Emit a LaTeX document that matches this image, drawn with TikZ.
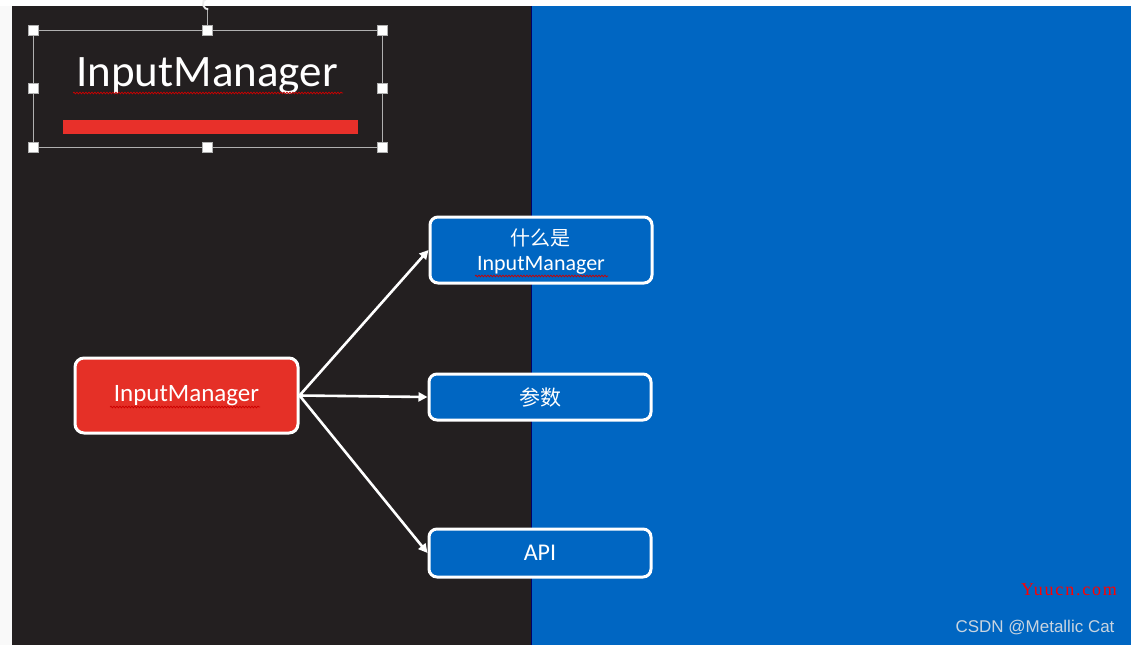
\documentclass[tikz,border=0pt]{standalone}
\usepackage{fontspec}
\setmainfont{Carlito}
\newfontfamily\cjk{Noto Sans CJK SC}
\newfontfamily\wmfont[LetterSpace=10]{Liberation Serif}
\newfontfamily\arialfont{Liberation Sans}
\usetikzlibrary{arrows.meta,decorations.pathmorphing}
\definecolor{darkbg}{HTML}{231F20}
\definecolor{bluebg}{HTML}{0066C2}
\definecolor{boxblue}{HTML}{0066C2}
\definecolor{redbox}{HTML}{E53027}
\definecolor{redbar}{HTML}{E8302A}
\definecolor{selgray}{HTML}{B0B0B0}
\definecolor{wm}{HTML}{C8D4E0}
\begin{document}
\begin{tikzpicture}[x=1pt,y=-1pt,
  bluebox/.style={draw=white,line width=3pt,fill=boxblue,rounded corners=8pt,text=white,inner sep=0pt},
  redbox/.style={draw=white,line width=3pt,fill=redbox,rounded corners=9pt,text=white,inner sep=0pt},
  handle/.style={draw=selgray,fill=white,line width=0.5pt,minimum size=10pt,inner sep=0pt},
  conn/.style={draw=white,line width=2.6pt,-{Triangle[length=9pt,width=9pt]}},
  squiggle/.style={draw=red!80!black,line width=0.7pt,decorate,decoration={snake,amplitude=0.9pt,segment length=3pt}}]
\useasboundingbox (0,0) rectangle (1131,645);
\fill[white] (0,0) rectangle (1131,645);
\fill[white!95!gray] (0,6) rectangle (12,645);
\fill[darkbg] (12,6) rectangle (531,645);
\fill[bluebg] (531,6) rectangle (1131,645);
\draw[black!60!blue,line width=1pt] (531.5,6) -- (531.5,645);
% selection box
\draw[selgray,line width=1pt] (33,30) rectangle (382,147);
\draw[selgray,line width=1pt] (207,30) -- (207,10);
\draw[white!85!gray,line width=1.8pt] (211,-1) arc (-60:-270:5.5);
\foreach \n/\p in {h1/{(33,30)},h2/{(207,30)},h3/{(382,30)},h4/{(33,88)},h5/{(382,88)},h6/{(33,147)},h7/{(207,147)},h8/{(382,147)}}
  \node[handle] (\n) at \p {};
\node[text=white,font=\fontsize{45}{50}\selectfont,inner sep=0pt] (title) at (207,76) {InputManager};
\draw[squiggle] (73,93) -- (343,93);
\fill[redbar] (63,120) rectangle (358,134);
% nodes
\node[redbox,minimum width=223pt,minimum height=75pt] (im) at (186.5,395.5) {\fontsize{25}{28}\selectfont InputManager};
\draw[squiggle] (110,407) -- (260,407);
\node[bluebox,minimum width=222pt,minimum height=66pt] (what) at (541,250) {};
\node[text=white,inner sep=0pt] (whatcn) at (540,238) {\cjk\fontsize{20}{22}\selectfont 什么是};
\node[text=white,inner sep=0pt] (whaten) at (541,265) {\fontsize{22}{24}\selectfont InputManager};
\draw[squiggle] (475,276) -- (608,276);
\node[bluebox,minimum width=222pt,minimum height=46pt] (param) at (540,397) {\cjk\fontsize{21}{24}\selectfont 参数};
\node[bluebox,minimum width=222pt,minimum height=48pt] (api) at (540,553) {\fontsize{24}{26}\selectfont API};
% connectors
\draw[conn] (im.east) -- (what.west);
\draw[conn] (im.east) -- (param.west);
\draw[conn] (im.east) -- (api.west);
% watermarks
\node[text=red,font=\wmfont\fontsize{18}{20}\selectfont,inner sep=0pt] (wm1) at (1069,590) {Yuucn.com};
\node[text=wm,font=\arialfont\fontsize{17}{19}\selectfont,inner sep=0pt] (wm2) at (1035,628) {CSDN @Metallic Cat};
\end{tikzpicture}
\end{document}
